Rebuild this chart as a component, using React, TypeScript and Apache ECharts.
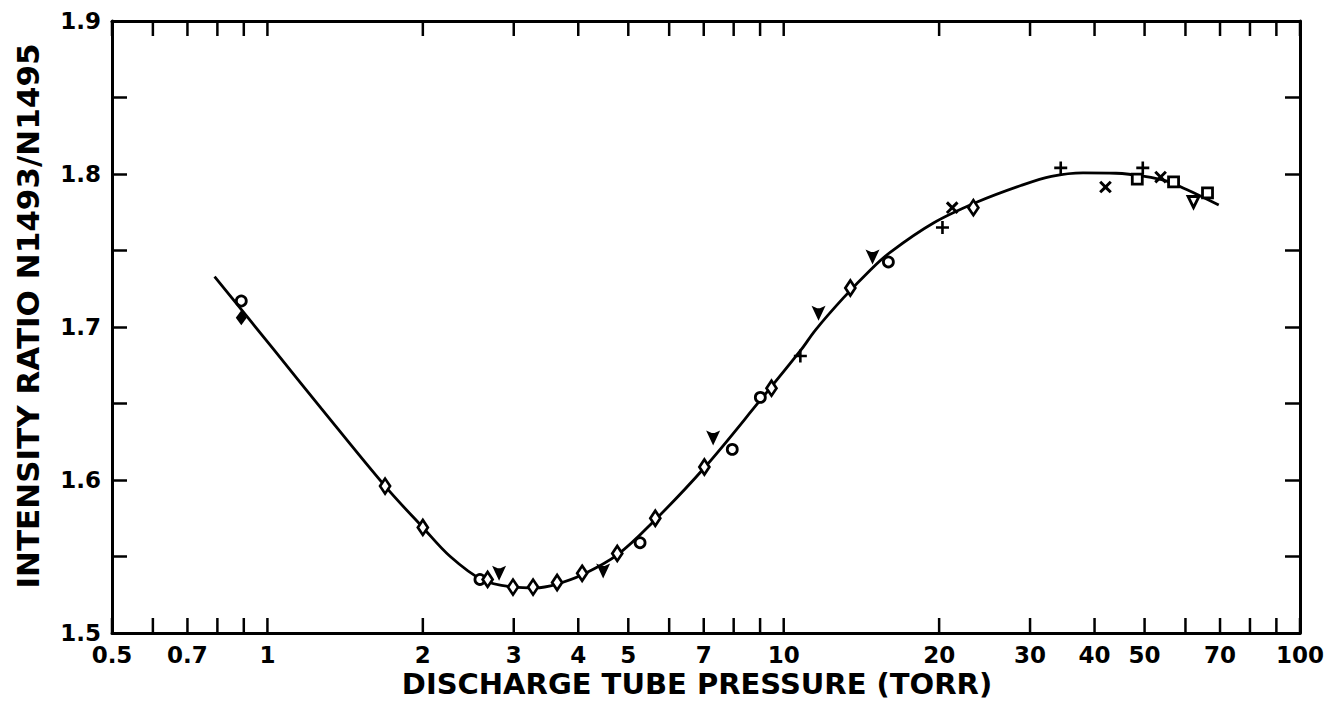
import React, { useEffect, useRef } from "react";
import * as echarts from "echarts";

// ---- axes ----
const X_MIN = 0.5;
const X_MAX = 100;
const Y_MIN = 1.5;
const Y_MAX = 1.9;
const xTickValues = [0.5, 0.6, 0.7, 0.8, 0.9, 1, 2, 3, 4, 5, 6, 7, 8, 9, 10, 20, 30, 40, 50, 60, 70, 80, 90, 100];
const xTickLabels = [0.5, 0.7, 1, 2, 3, 4, 5, 7, 10, 20, 30, 40, 50, 70, 100];
const xTitle = "DISCHARGE TUBE PRESSURE (TORR)";
const yTitle = "INTENSITY RATIO N1493/N1495";

// ---- fitted curve ----
const curve = [
  [0.79, 1.733], [1.03, 1.685], [1.27, 1.647], [1.69, 1.596], [2.0, 1.569],
  [2.26, 1.55], [2.6, 1.535], [3.0, 1.53], [3.3, 1.5295], [3.64, 1.532],
  [4.07, 1.538], [4.76, 1.551], [5.64, 1.574], [7.02, 1.608], [9.0, 1.652],
  [10.8, 1.685], [11.52, 1.698], [13.05, 1.719], [14.72, 1.7373], [16.1, 1.749],
  [19.5, 1.768], [23.7, 1.7817], [28.8, 1.7925], [33.0, 1.7985], [38.0, 1.8008],
  [44.0, 1.8005], [50.0, 1.7985], [55.0, 1.7955], [60.6, 1.7895], [69.6, 1.7797],
];

// ---- data points by marker ----
const circlePts = [[0.89, 1.717], [2.58, 1.535], [5.27, 1.559], [7.95, 1.62], [9.01, 1.654], [15.95, 1.7425]];
const diamondPts = [
  [1.69, 1.596], [2.0, 1.569], [2.67, 1.535], [2.99, 1.53], [3.27, 1.53], [3.64, 1.533],
  [4.07, 1.539], [4.76, 1.552], [5.64, 1.575], [7.02, 1.6085], [9.47, 1.66], [13.46, 1.7255], [23.3, 1.778],
];
const filledDiamondPts = [[0.89, 1.706]];
const vPts = [[2.81, 1.539], [4.47, 1.5405], [7.3, 1.6275], [11.68, 1.709], [14.86, 1.7458]];
const plusPts = [[10.77, 1.681], [20.3, 1.765], [34.4, 1.804], [49.6, 1.804]];
const crossPts = [[21.2, 1.778], [42.0, 1.7915], [53.7, 1.798]];
const squarePts = [[48.4, 1.7967], [56.9, 1.7948], [66.2, 1.7876]];
const triDownPts = [[62.2, 1.7817]];

const FONT = '"DejaVu Sans", "Liberation Sans", Arial, sans-serif';
const PLUS_PATH = "path://M4,0H6V4H10V6H6V10H4V6H0V4H4Z";
const V_PATH = "path://M0,0L4,2L6,2L10,0L5,12Z";

export default function App() {
  const ref = useRef<HTMLDivElement>(null);
  useEffect(() => {
    if (!ref.current) return;
    const chart = echarts.init(ref.current, undefined, { renderer: "svg" });
    const openStyle = { color: "#fff", borderColor: "#000", borderWidth: 2.8, opacity: 1 };
    const solidStyle = { color: "#000", borderWidth: 0, opacity: 1 };
    const option: any = {
      animation: false,
      backgroundColor: "#fff",
      textStyle: { fontFamily: FONT },
      grid: { left: 112, right: 37, top: 21, bottom: 72, containLabel: false },
      graphic: [
        {
          type: "text",
          x: 28,
          y: 316,
          rotation: Math.PI / 2,
          style: {
            text: yTitle,
            fill: "#000",
            font: `bold 31px ${FONT}`,
            align: "center",
            verticalAlign: "middle",
          },
        },
      ],
      xAxis: [
        {
          type: "log",
          logBase: 10,
          min: X_MIN,
          max: X_MAX,
          position: "bottom",
          axisLine: { show: true, lineStyle: { color: "#000", width: 3 } },
          axisTick: { show: false },
          axisLabel: { show: false },
          splitLine: { show: false },
          minorTick: { show: false },
          name: xTitle,
          nameLocation: "middle",
          nameGap: 36,
          nameTextStyle: { fontFamily: FONT, fontWeight: "bold", fontSize: 29, lineHeight: 30, color: "#000", padding: [0, 18, 0, 0] },
        },
        {
          type: "log",
          logBase: 10,
          min: X_MIN,
          max: X_MAX,
          position: "top",
          axisLine: { show: true, onZero: false, lineStyle: { color: "#000", width: 3 } },
          axisTick: { show: false },
          axisLabel: { show: false },
          splitLine: { show: false },
        },
      ],
      yAxis: [
        {
          type: "value",
          min: Y_MIN,
          max: Y_MAX,
          interval: 0.05,
          position: "left",
          axisLine: { show: true, lineStyle: { color: "#000", width: 3 } },
          axisTick: { show: true, inside: true, length: 15, lineStyle: { color: "#000", width: 2.5 } },
          axisLabel: {
            show: true,
            margin: 11,
            fontFamily: FONT,
            fontWeight: "bold",
            fontSize: 23,
            color: "#000",
            formatter: (v: number) => (Math.abs(v * 10 - Math.round(v * 10)) < 1e-6 ? v.toFixed(1) : ""),
          },
          splitLine: { show: false },
        },
        {
          type: "value",
          min: Y_MIN,
          max: Y_MAX,
          interval: 0.05,
          position: "right",
          axisLine: { show: true, onZero: false, lineStyle: { color: "#000", width: 3 } },
          axisTick: { show: true, inside: true, length: 15, lineStyle: { color: "#000", width: 2.5 } },
          axisLabel: { show: false },
          splitLine: { show: false },
        },
      ],
      series: [
        {
          type: "custom",
          xAxisIndex: 0,
          yAxisIndex: 0,
          silent: true,
          clip: false,
          data: xTickValues.map((v) => [v, Y_MIN]),
          renderItem: (params: any, api: any) => {
            const v = api.value(0);
            const b = api.coord([v, Y_MIN]);
            const t = api.coord([v, Y_MAX]);
            const children: any[] = [
              { type: "line", shape: { x1: b[0], y1: b[1], x2: b[0], y2: b[1] - 15 }, style: { stroke: "#000", lineWidth: 2.5 } },
              { type: "line", shape: { x1: t[0], y1: t[1], x2: t[0], y2: t[1] + 15 }, style: { stroke: "#000", lineWidth: 2.5 } },
            ];
            if (xTickLabels.indexOf(v) >= 0) {
              children.push({
                type: "text",
                x: b[0],
                y: b[1] + 10,
                style: {
                  text: String(v),
                  fill: "#000",
                  font: `bold 23px ${FONT}`,
                  lineHeight: 24,
                  align: "center",
                  verticalAlign: "top",
                },
              });
            }
            return { type: "group", children };
          },
        },
        {
          type: "line",
          data: curve,
          smooth: 0.35,
          showSymbol: false,
          symbol: "none",
          lineStyle: { color: "#000", width: 2.8 },
          z: 2,
        },
        { type: "scatter", data: circlePts, symbol: "circle", symbolSize: 10, itemStyle: openStyle, z: 3 },
        { type: "scatter", data: diamondPts, symbol: "diamond", symbolSize: [10, 15], itemStyle: openStyle, z: 3 },
        { type: "scatter", data: filledDiamondPts, symbol: "diamond", symbolSize: [11, 15], itemStyle: solidStyle, z: 3 },
        { type: "scatter", data: vPts, symbol: V_PATH, symbolSize: [14, 15], itemStyle: solidStyle, z: 3 },
        { type: "scatter", data: plusPts, symbol: PLUS_PATH, symbolSize: 13, itemStyle: solidStyle, z: 3 },
        { type: "scatter", data: crossPts, symbol: PLUS_PATH, symbolRotate: 45, symbolSize: 15, itemStyle: solidStyle, z: 3 },
        { type: "scatter", data: squarePts, symbol: "rect", symbolSize: 10, itemStyle: openStyle, z: 3 },
        { type: "scatter", data: triDownPts, symbol: "triangle", symbolRotate: 180, symbolSize: 11, itemStyle: openStyle, z: 3 },
      ],
    };
    chart.setOption(option);
    return () => chart.dispose();
  }, []);
  return (
    <div
      ref={ref}
      style={{ position: "fixed", left: 0, top: 0, width: 1337, height: 705, background: "#fff" }}
    />
  );
}
